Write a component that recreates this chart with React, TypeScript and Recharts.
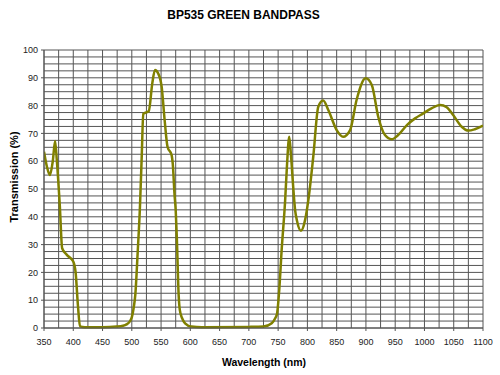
import { LineChart, Line, XAxis, YAxis, ReferenceLine } from 'recharts';

const wavelengths = [
  350, 355, 360, 365, 369, 372, 377, 381, 389, 400, 404, 408, 411.5, 420, 450, 474, 485, 491, 497, 500,
  503, 506, 510, 514, 517, 519.6, 529, 535, 539.6, 545, 551, 556, 561, 568, 570, 573, 575, 577, 580, 582,
  586, 591, 602, 620, 700, 725, 739, 745, 748, 752, 756, 762, 765, 769, 772, 776, 779, 782, 789, 796,
  801.6, 810, 818.6, 827, 835.7, 850, 861, 873, 884, 899.6, 910, 921, 932.5, 944, 955, 970, 984, 998, 1012, 1026.6,
  1038, 1049, 1063.6, 1075, 1086, 1100,
];

const transmission = [
  63.4, 58, 55, 60, 67.3, 60, 44, 28.7, 26.3, 23.9, 20, 8, 0.6, 0.3, 0.3, 0.5, 0.8, 1.3, 2.5, 3.8,
  7, 12, 27, 44, 62, 77, 78, 88, 92.8, 91.6, 86.8, 75, 65.2, 62.2, 59, 48, 42.4, 32, 12, 6.5,
  3.5, 1.7, 0.5, 0.3, 0.4, 0.5, 1.7, 3.5, 5, 14, 28, 46, 58, 68.8, 62, 50, 42.4, 38.8, 35, 38.8,
  46, 61.6, 79.6, 81.8, 78.4, 71.2, 68.8, 71.2, 82, 89.8, 87.4, 76, 69.4, 67.9, 69.4, 73, 75.4, 77.2, 79, 80.2,
  79.4, 76.6, 72.4, 71, 71.5, 72.8,
];

const xTicks = [350, 400, 450, 500, 550, 600, 650, 700, 750, 800, 850, 900, 950, 1000, 1050, 1100];
const yTicks = [0, 10, 20, 30, 40, 50, 60, 70, 80, 90, 100];

// grid every 25 nm and every 2.5 %
const gridX = Array.from({ length: 31 }, (_, i) => 350 + i * 25);
const gridY = Array.from({ length: 41 }, (_, i) => i * 2.5);

const data = wavelengths.map((w, i) => ({ nm: w, t: transmission[i] }));

const font = 'Arial, "Liberation Sans", sans-serif';
const gridColor = '#555';

export default function App() {
  return (
    <div style={{ position: 'absolute', left: 0, top: 0, width: 500, height: 375, background: '#fff', fontFamily: font }}>
      <LineChart width={500} height={375} data={data} margin={{ top: 50, right: 17, bottom: 0, left: 0 }}>
        <XAxis
          dataKey="nm"
          type="number"
          domain={[350, 1100]}
          ticks={xTicks}
          height={47}
          tickSize={3}
          tickMargin={8}
          stroke={gridColor}
          tick={{ fontSize: 9, fill: '#222', fontFamily: font }}
          allowDataOverflow
        />
        <YAxis
          type="number"
          domain={[0, 100]}
          ticks={yTicks}
          width={44}
          tickSize={3}
          tickMargin={3}
          stroke={gridColor}
          tick={{ fontSize: 9, fill: '#222', fontFamily: font }}
        />
        {gridX.map((v) => (
          <ReferenceLine key={'x' + v} x={v} stroke={gridColor} strokeWidth={1} />
        ))}
        {gridY.map((v) => (
          <ReferenceLine key={'y' + v} y={v} stroke={gridColor} strokeWidth={1} />
        ))}
        <Line
          type="monotone"
          dataKey="t"
          stroke="#808000"
          strokeWidth={2.5}
          dot={false}
          isAnimationActive={false}
        />
      </LineChart>
      <div style={{ position: 'absolute', left: 243.5, top: 15, transform: 'translate(-50%, -50%)', fontSize: 12, fontWeight: 'bold', whiteSpace: 'nowrap' }}>
        BP535 GREEN BANDPASS
      </div>
      <div style={{ position: 'absolute', left: 264, top: 362, transform: 'translate(-50%, -50%)', fontSize: 10.5, fontWeight: 'bold', whiteSpace: 'nowrap' }}>
        Wavelength (nm)
      </div>
      <div style={{ position: 'absolute', left: 14, top: 177, transform: 'translate(-50%, -50%) rotate(-90deg)', fontSize: 11, fontWeight: 'bold', whiteSpace: 'nowrap' }}>
        Transmission (%)
      </div>
    </div>
  );
}
